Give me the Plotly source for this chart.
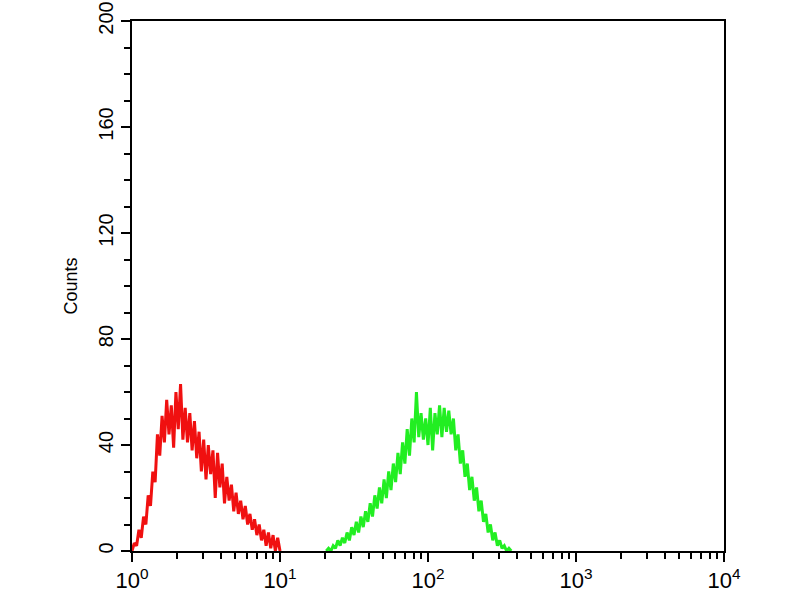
import plotly.graph_objects as go

# channel indices (4-channel steps of a 1024-channel, 4-decade log scale)
channels_per_decade = 256
red_first_channel = 0
red_counts = [0, 3, 2, 8, 5, 13, 10, 21, 17, 30, 26, 44, 36, 51, 41, 57, 44, 55, 39, 60,
              46, 63, 42, 54, 41, 52, 38, 49, 35, 45, 30, 42, 27, 40, 29, 38, 20, 37, 24, 33,
              18, 28, 19, 25, 15, 22, 14, 19, 12, 17, 10, 14, 8, 12, 6, 10, 4, 8, 2, 7,
              1, 6, 0, 5, 0]
green_first_channel = 336
green_counts = [0, 1, 0, 2, 1, 4, 2, 5, 3, 7, 4, 9, 6, 11, 7, 13, 9, 15, 11, 18,
                13, 21, 16, 24, 18, 27, 20, 30, 23, 33, 26, 37, 29, 41, 33, 46, 36, 50, 41, 60,
                43, 52, 42, 50, 40, 54, 38, 52, 44, 55, 43, 54, 45, 53, 44, 50, 38, 44, 33, 38,
                28, 33, 23, 28, 19, 24, 15, 19, 11, 14, 7, 10, 4, 7, 2, 4, 1, 2, 0, 1, 0]
step = 4

x_tick_vals = [1, 10, 100, 1000, 10000]
x_tick_text = ["10<sup>0</sup>", "10<sup>1</sup>", "10<sup>2</sup>", "10<sup>3</sup>", "10<sup>4</sup>"]
y_tick_vals = [0, 40, 80, 120, 160, 200]


def chan_x(first, n):
    return [10 ** ((first + step * i) / channels_per_decade) for i in range(n)]


fig = go.Figure()
fig.add_trace(go.Scatter(x=chan_x(red_first_channel, len(red_counts)), y=red_counts,
                         mode="lines", line=dict(color="#f01010", width=3), showlegend=False))
fig.add_trace(go.Scatter(x=chan_x(green_first_channel, len(green_counts)), y=green_counts,
                         mode="lines", line=dict(color="#22ee22", width=3), showlegend=False))

minor_x = [m * 10 ** d for d in range(4) for m in range(2, 10)]

fig.update_layout(
    width=800, height=600,
    margin=dict(l=132, r=76, t=21, b=49),
    paper_bgcolor="white", plot_bgcolor="white",
    font=dict(family="Liberation Sans, Arial, sans-serif", color="black"),
    xaxis=dict(type="log", range=[0, 4], showgrid=False, zeroline=False, automargin=False,
               showline=True, linecolor="black", linewidth=2, mirror=True,
               ticks="outside", ticklen=9, tickwidth=2, tickcolor="black",
               tickmode="array", tickvals=x_tick_vals, ticktext=x_tick_text,
               tickfont=dict(size=22), ticklabeloverflow="allow",
               minor=dict(tickmode="array", tickvals=minor_x, ticks="outside",
                          ticklen=6, tickwidth=2, tickcolor="black", showgrid=False)),
    yaxis=dict(range=[0, 200], showgrid=False, zeroline=False, automargin=False,
               showline=True, linecolor="black", linewidth=2, mirror=True,
               ticks="outside", ticklen=9, tickwidth=2, tickcolor="black",
               tickmode="array", tickvals=y_tick_vals, tickangle=-90,
               tickfont=dict(size=20), ticklabeloverflow="allow",
               title=dict(text="Counts", font=dict(size=18), standoff=13),
               minor=dict(dtick=10, ticks="outside", ticklen=6, tickwidth=2,
                          tickcolor="black", showgrid=False)),
)

fig.write_html("out.html", config={"displayModeBar": False},
               post_script="document.body.style.margin='0';")
